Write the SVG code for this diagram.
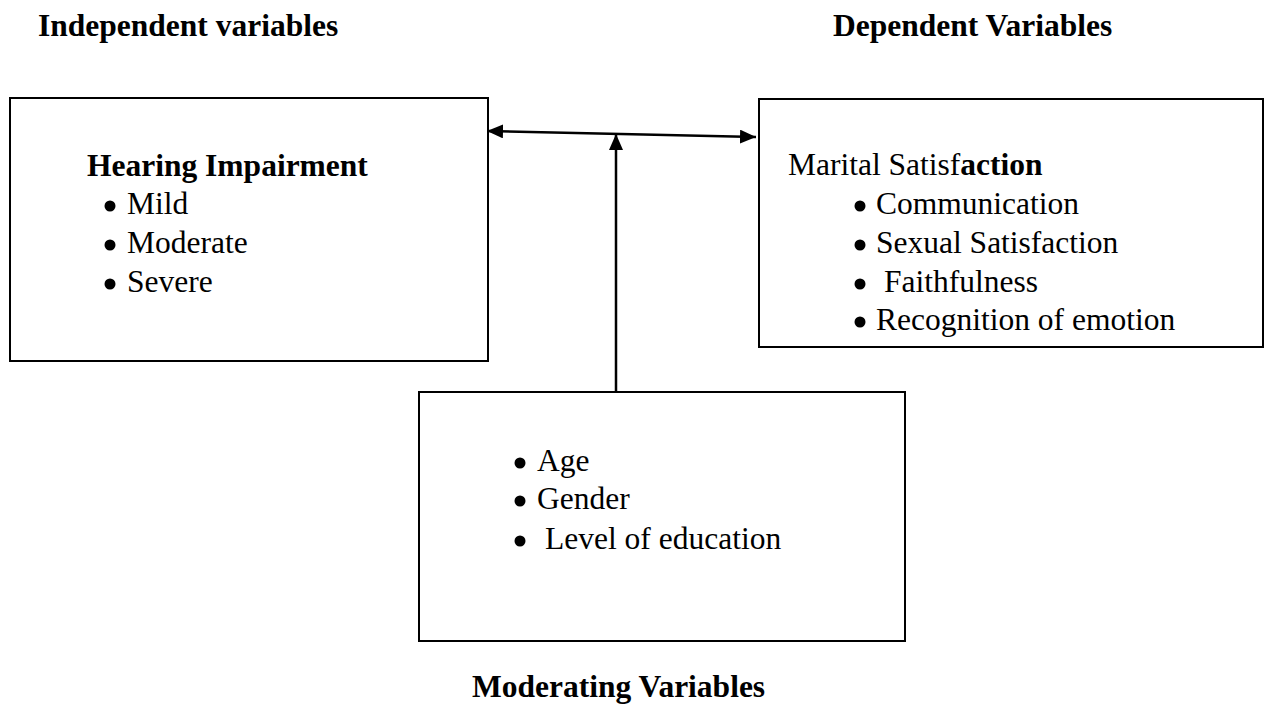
<svg xmlns="http://www.w3.org/2000/svg" width="1265" height="713" viewBox="0 0 1265 713">
<style>
text{font-family:"Liberation Serif","Times New Roman",serif;font-size:31.5px;fill:#000}
.b{font-weight:bold}
.box{fill:#fff;stroke:#000;stroke-width:2}
.ln{stroke:#000;stroke-width:2.5;fill:none}
.dot{fill:#000}
</style>
<defs>
<marker id="a2" viewBox="0 0 16 14" refX="16" refY="7" markerWidth="16" markerHeight="14" markerUnits="userSpaceOnUse" orient="auto-start-reverse">
<path d="M0,0 L16,7 L0,14 Z" fill="#000"/>
</marker>
</defs>
<rect width="1265" height="713" fill="#fff"/>
<g id="headers">
<text class="b" x="38" y="36">Independent variables</text>
<text class="b" x="833" y="36">Dependent Variables</text>
<text class="b" x="472" y="697">Moderating Variables</text>
</g>
<g id="connectors">
<line class="ln" x1="487" y1="131" x2="756" y2="137" marker-start="url(#a2)" marker-end="url(#a2)"/>
<line class="ln" x1="616" y1="392" x2="616" y2="134" marker-end="url(#a2)"/>
</g>
<g id="independent">
<rect class="box" x="10" y="98" width="478" height="263"/>
<text class="b" x="87" y="176">Hearing Impairment</text>
<circle class="dot" cx="110" cy="206" r="5.5"/><text x="127" y="214">Mild</text>
<circle class="dot" cx="110" cy="245" r="5.5"/><text x="127" y="253">Moderate</text>
<circle class="dot" cx="110" cy="284" r="5.5"/><text x="127" y="292">Severe</text>
</g>
<g id="dependent">
<rect class="box" x="759" y="99" width="504" height="248"/>
<text x="788" y="175">Marital Satisf<tspan class="b">action</tspan></text>
<circle class="dot" cx="860" cy="206" r="5.5"/><text x="876" y="214">Communication</text>
<circle class="dot" cx="860" cy="245" r="5.5"/><text x="876" y="253">Sexual Satisfaction</text>
<circle class="dot" cx="860" cy="284" r="5.5"/><text x="884" y="292">Faithfulness</text>
<circle class="dot" cx="860" cy="322" r="5.5"/><text x="876" y="330">Recognition of emotion</text>
</g>
<g id="moderating">
<rect class="box" x="419" y="392" width="486" height="249"/>
<circle class="dot" cx="520" cy="463" r="5.5"/><text x="537" y="471">Age</text>
<circle class="dot" cx="520" cy="501" r="5.5"/><text x="537" y="509">Gender</text>
<circle class="dot" cx="520" cy="541" r="5.5"/><text x="545" y="549">Level of education</text>
</g>
</svg>
